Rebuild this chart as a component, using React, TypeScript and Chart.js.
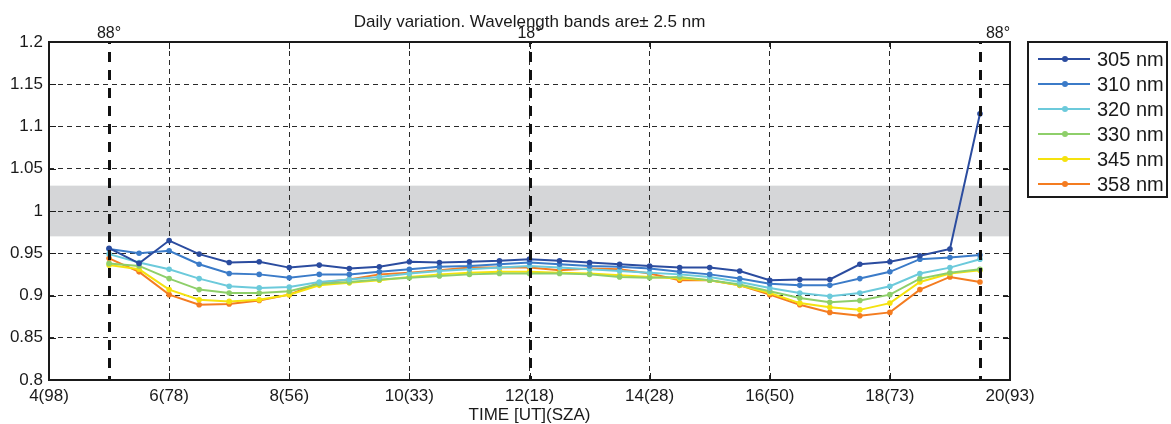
import React, { useEffect, useRef } from "react";
import Chart from "chart.js/auto";

const hours = [5, 5.5, 6, 6.5, 7, 7.5, 8, 8.5, 9, 9.5, 10, 10.5, 11, 11.5, 12, 12.5, 13, 13.5, 14, 14.5, 15, 15.5, 16, 16.5, 17, 17.5, 18, 18.5, 19, 19.5];

const s305 = [0.956, 0.938, 0.965, 0.949, 0.939, 0.940, 0.933, 0.936, 0.932, 0.934, 0.940, 0.939, 0.940, 0.941, 0.943, 0.941, 0.939, 0.937, 0.935, 0.933, 0.933, 0.929, 0.918, 0.919, 0.919, 0.937, 0.940, 0.947, 0.955, 1.115];
const s310 = [0.955, 0.950, 0.953, 0.937, 0.926, 0.925, 0.921, 0.925, 0.925, 0.928, 0.931, 0.934, 0.935, 0.937, 0.939, 0.937, 0.935, 0.934, 0.932, 0.928, 0.925, 0.920, 0.914, 0.912, 0.912, 0.920, 0.928, 0.943, 0.945, 0.948];
const s320 = [0.949, 0.939, 0.931, 0.920, 0.911, 0.909, 0.910, 0.916, 0.919, 0.922, 0.926, 0.929, 0.931, 0.933, 0.935, 0.933, 0.931, 0.929, 0.927, 0.925, 0.922, 0.916, 0.909, 0.903, 0.899, 0.903, 0.911, 0.926, 0.933, 0.943];
const s330 = [0.938, 0.935, 0.920, 0.907, 0.903, 0.903, 0.905, 0.914, 0.916, 0.919, 0.921, 0.923, 0.925, 0.926, 0.926, 0.926, 0.925, 0.922, 0.921, 0.922, 0.918, 0.913, 0.905, 0.897, 0.892, 0.894, 0.901, 0.920, 0.927, 0.931];
const s345 = [0.936, 0.931, 0.907, 0.895, 0.893, 0.895, 0.901, 0.912, 0.915, 0.918, 0.922, 0.925, 0.927, 0.928, 0.928, 0.927, 0.926, 0.924, 0.922, 0.920, 0.918, 0.912, 0.903, 0.891, 0.886, 0.883, 0.891, 0.916, 0.926, 0.930];
const s358 = [0.944, 0.928, 0.901, 0.889, 0.890, 0.894, 0.901, 0.915, 0.919, 0.925, 0.927, 0.930, 0.933, 0.933, 0.933, 0.930, 0.932, 0.931, 0.926, 0.918, 0.918, 0.912, 0.901, 0.889, 0.880, 0.876, 0.880, 0.907, 0.922, 0.916];

const seriesNames = ["305 nm", "310 nm", "320 nm", "330 nm", "345 nm", "358 nm"];
const seriesColors = ["#2b4c9f", "#3b7bc8", "#6ccadb", "#8ecf6a", "#f5e20e", "#f47c20"];
const seriesValues = [s305, s310, s320, s330, s345, s358];

const xTickValues = [4, 6, 8, 10, 12, 14, 16, 18, 20];
const xTickLabels = ["4(98)", "6(78)", "8(56)", "10(33)", "12(18)", "14(28)", "16(50)", "18(73)", "20(93)"];
const yTickValues = [0.8, 0.85, 0.9, 0.95, 1, 1.05, 1.1, 1.15, 1.2];
const yTickLabels = ["0.8", "0.85", "0.9", "0.95", "1", "1.05", "1.1", "1.15", "1.2"];

const bandRange = [0.97, 1.03];
const markerHours = [5, 12, 19.5];
const markerLabels = ["88°", "18°", "88°"];
const markerLabelHours = [5, 12, 19.8];

const titleText = "Daily variation. Wavelength bands are± 2.5 nm";
const xTitleText = "TIME [UT](SZA)";

const FONT = "'Liberation Sans', Arial, Helvetica, sans-serif";

export default function App() {
  const ref = useRef<HTMLCanvasElement | null>(null);

  useEffect(() => {
    document.body.style.margin = "0";
    const canvas = ref.current;
    if (!canvas) return;

    const decor = {
      id: "decor",
      beforeDraw(chart: any) {
        const { ctx, chartArea: a, scales } = chart;
        const y = scales.y;
        ctx.save();
        ctx.fillStyle = "#d5d6d8";
        const yTop = y.getPixelForValue(bandRange[1]);
        const yBot = y.getPixelForValue(bandRange[0]);
        ctx.fillRect(a.left, yTop, a.right - a.left, yBot - yTop);
        ctx.restore();
      },
      afterDatasetsDraw(chart: any) {
        const { ctx, chartArea: a, scales } = chart;
        const x = scales.x;
        const y = scales.y;
        ctx.save();
        ctx.strokeStyle = "#111";
        ctx.lineWidth = 3;
        ctx.setLineDash([10, 8]);
        ctx.lineDashOffset = 8;
        markerHours.forEach((h) => {
          const px = Math.round(x.getPixelForValue(h)) + 0.5;
          ctx.beginPath();
          ctx.moveTo(px, a.top);
          ctx.lineTo(px, a.bottom);
          ctx.stroke();
        });
        ctx.setLineDash([]);
        ctx.strokeStyle = "#1a1a1a";
        ctx.lineWidth = 1;
        const tl = 7;
        xTickValues.forEach((v) => {
          const px = Math.round(x.getPixelForValue(v)) + 0.5;
          ctx.beginPath();
          ctx.moveTo(px, a.bottom);
          ctx.lineTo(px, a.bottom - tl);
          ctx.moveTo(px, a.top);
          ctx.lineTo(px, a.top + tl);
          ctx.stroke();
        });
        yTickValues.forEach((v) => {
          const py = Math.round(y.getPixelForValue(v)) + 0.5;
          ctx.beginPath();
          ctx.moveTo(a.left, py);
          ctx.lineTo(a.left + tl, py);
          ctx.moveTo(a.right, py);
          ctx.lineTo(a.right - tl, py);
          ctx.stroke();
        });
        ctx.strokeStyle = "#1a1a1a";
        ctx.lineWidth = 2;
        ctx.strokeRect(a.left, a.top, a.right - a.left, a.bottom - a.top);
        ctx.restore();
      },
      afterDraw(chart: any) {
        const { ctx, chartArea: a, scales } = chart;
        const x = scales.x;
        ctx.save();
        ctx.fillStyle = "#1a1a1a";
        ctx.textAlign = "center";
        ctx.textBaseline = "middle";
        ctx.font = `17px ${FONT}`;
        ctx.fillText(titleText, (a.left + a.right) / 2, 22);
        ctx.font = `16px ${FONT}`;
        markerLabelHours.forEach((h, i) => {
          ctx.fillText(markerLabels[i], x.getPixelForValue(h), 34);
        });
        ctx.font = `17px ${FONT}`;
        ctx.fillText(xTitleText, (a.left + a.right) / 2, 415);

        const bx = 1028, by = 42, bw = 139, bh = 155;
        ctx.fillStyle = "#ffffff";
        ctx.fillRect(bx, by, bw, bh);
        ctx.strokeStyle = "#1a1a1a";
        ctx.lineWidth = 2;
        ctx.strokeRect(bx, by, bw, bh);
        ctx.font = `20px ${FONT}`;
        ctx.textAlign = "left";
        seriesNames.forEach((name, i) => {
          const cy = 59 + i * 25;
          ctx.strokeStyle = seriesColors[i];
          ctx.lineWidth = 2;
          ctx.beginPath();
          ctx.moveTo(1038, cy);
          ctx.lineTo(1090, cy);
          ctx.stroke();
          ctx.fillStyle = seriesColors[i];
          ctx.beginPath();
          ctx.arc(1065, cy, 3, 0, Math.PI * 2);
          ctx.fill();
          ctx.fillStyle = "#1a1a1a";
          ctx.fillText(name, 1097, cy + 1);
        });
        ctx.restore();
      },
    };

    const chart = new Chart(canvas, {
      type: "line",
      data: {
        datasets: seriesNames.map((name, i) => ({
          label: name,
          data: hours.map((h, j) => ({ x: h, y: seriesValues[i][j] })),
          borderColor: seriesColors[i],
          backgroundColor: seriesColors[i],
          pointBackgroundColor: seriesColors[i],
          pointBorderColor: seriesColors[i],
          borderWidth: 2,
          pointRadius: 2.8,
          pointBorderWidth: 0,
          pointHoverRadius: 0,
          tension: 0,
          fill: false,
          clip: false,
        })),
      },
      options: {
        animation: false,
        responsive: false,
        maintainAspectRatio: false,
        events: [],
        layout: { padding: { top: 42, right: 161, left: 0, bottom: 0 } },
        plugins: {
          legend: { display: false },
          tooltip: { enabled: false },
          title: { display: false },
        },
        scales: {
          x: {
            type: "linear",
            min: 4,
            max: 20,
            afterBuildTicks: (s: any) => {
              s.ticks = xTickValues.map((v) => ({ value: v }));
            },
            afterFit: (s: any) => {
              s.height = 44;
            },
            ticks: {
              autoSkip: false,
              maxRotation: 0,
              padding: 6,
              color: "#1a1a1a",
              font: { family: FONT, size: 17 },
              callback: (v: any) => xTickLabels[xTickValues.indexOf(Number(v))] ?? "",
            },
            grid: { color: "#2a2a2a", lineWidth: 1, drawTicks: false },
            border: { display: false, dash: [5, 4] },
          },
          y: {
            type: "linear",
            min: 0.8,
            max: 1.2,
            afterBuildTicks: (s: any) => {
              s.ticks = yTickValues.map((v) => ({ value: v }));
            },
            afterFit: (s: any) => {
              s.width = 49;
            },
            ticks: {
              autoSkip: false,
              padding: 6,
              color: "#1a1a1a",
              font: { family: FONT, size: 17 },
              callback: (v: any) => {
                const idx = yTickValues.findIndex((t) => Math.abs(t - Number(v)) < 1e-6);
                return idx >= 0 ? yTickLabels[idx] : "";
              },
            },
            grid: { color: "#2a2a2a", lineWidth: 1, drawTicks: false },
            border: { display: false, dash: [5, 4] },
          },
        },
      },
      plugins: [decor],
    } as any);

    return () => {
      chart.destroy();
    };
  }, []);

  return (
    <div style={{ width: 1171, height: 424 }}>
      <canvas ref={ref} width={1171} height={424} style={{ display: "block", width: 1171, height: 424 }} />
    </div>
  );
}
